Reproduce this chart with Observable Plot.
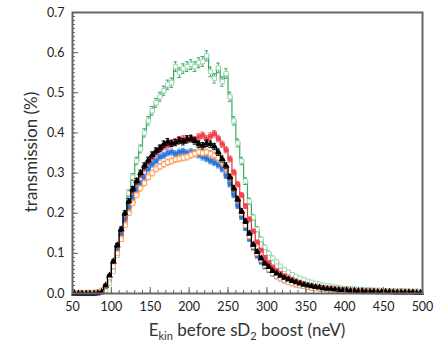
<!DOCTYPE html>
<html><head><meta charset="utf-8">
<script src="https://cdn.jsdelivr.net/npm/d3@7"></script>
<script src="https://cdn.jsdelivr.net/npm/@observablehq/plot@0.6"></script>
<style>body{margin:0;background:#fff;} svg{display:block;}</style>
</head><body><div id="chart"></div>
<script>
// bin lower edges 50..495 step 5 (neV)
const binEdges = d3.range(50, 500, 5);
const xTicksMajor = [50,100,150,200,250,300,350,400,450,500];
const yTicksMajor = [0,0.1,0.2,0.3,0.4,0.5,0.6,0.7];

const green = [
0,0,0,0,0,0,0.001,0.003,0.006,0.025,
0.055,0.095,0.145,0.195,0.25,0.29,0.33,0.36,0.40,0.43,
0.455,0.475,0.49,0.505,0.52,0.525,0.565,0.55,0.56,0.565,
0.57,0.565,0.575,0.578,0.592,0.552,0.536,0.562,0.528,0.548,
0.49,0.43,0.375,0.33,0.28,0.23,0.19,0.16,0.135,0.115,
0.10,0.088,0.079,0.068,0.06,0.053,0.047,0.042,0.038,0.034,
0.031,0.028,0.025,0.023,0.021,0.019,0.018,0.016,0.015,0.013,
0.012,0.012,0.011,0.010,0.010,0.009,0.009,0.008,0.008,0.008,
0.007,0.007,0.007,0.006,0.007,0.006,0.006,0.005,0.006,0.005];

const red = [
0,0,0,0,0,0,0.001,0.004,0.018,0.042,
0.075,0.11,0.15,0.19,0.22,0.25,0.275,0.295,0.312,0.326,
0.338,0.35,0.358,0.366,0.37,0.373,0.378,0.383,0.385,0.382,
0.386,0.383,0.39,0.394,0.385,0.392,0.398,0.386,0.372,0.358,
0.335,0.302,0.272,0.245,0.218,0.185,0.155,0.128,0.108,0.09,
0.077,0.066,0.057,0.05,0.044,0.039,0.034,0.03,0.027,0.024,
0.021,0.019,0.017,0.016,0.014,0.013,0.012,0.011,0.010,0.009,
0.009,0.008,0.008,0.007,0.007,0.006,0.006,0.006,0.005,0.005,
0.005,0.004,0.004,0.004,0.004,0.003,0.003,0.003,0.003,0.003];

const blue = [
0,0,0,0,0,0,0.001,0.004,0.018,0.04,
0.072,0.11,0.15,0.185,0.215,0.24,0.26,0.275,0.29,0.31,
0.322,0.33,0.34,0.344,0.35,0.352,0.348,0.352,0.354,0.35,
0.353,0.35,0.345,0.34,0.336,0.33,0.326,0.32,0.31,0.293,
0.272,0.245,0.218,0.19,0.162,0.135,0.113,0.093,0.078,0.066,
0.057,0.048,0.041,0.036,0.031,0.027,0.024,0.021,0.019,0.017,
0.015,0.013,0.012,0.011,0.010,0.009,0.008,0.008,0.007,0.006,
0.006,0.005,0.005,0.005,0.004,0.004,0.004,0.004,0.003,0.003,
0.003,0.003,0.003,0.002,0.002,0.002,0.002,0.002,0.002,0.002];

const orange = [
0.002,0.002,0.002,0.002,0.002,0.003,0.004,0.008,0.02,0.04,
0.068,0.10,0.135,0.17,0.20,0.225,0.245,0.262,0.275,0.29,
0.30,0.31,0.316,0.322,0.327,0.33,0.334,0.336,0.338,0.34,
0.345,0.348,0.352,0.35,0.352,0.348,0.344,0.338,0.328,0.312,
0.29,0.262,0.232,0.20,0.17,0.142,0.118,0.10,0.084,0.07,
0.06,0.05,0.043,0.037,0.032,0.028,0.025,0.022,0.02,0.018,
0.016,0.014,0.013,0.012,0.011,0.010,0.009,0.008,0.008,0.007,
0.007,0.006,0.006,0.006,0.005,0.005,0.005,0.005,0.005,0.004,
0.004,0.004,0.004,0.004,0.004,0.004,0.003,0.004,0.003,0.003];

const black = [
0,0,0,0,0,0,0.001,0.004,0.02,0.045,
0.08,0.12,0.16,0.20,0.23,0.26,0.28,0.30,0.318,0.332,
0.345,0.355,0.362,0.372,0.378,0.374,0.376,0.381,0.378,0.385,
0.386,0.38,0.372,0.368,0.374,0.372,0.366,0.352,0.335,0.318,
0.29,0.262,0.235,0.205,0.18,0.15,0.122,0.104,0.088,0.075,
0.066,0.056,0.05,0.044,0.039,0.035,0.031,0.028,0.025,0.022,
0.02,0.018,0.016,0.015,0.013,0.012,0.011,0.010,0.009,0.008,
0.008,0.007,0.007,0.006,0.006,0.005,0.005,0.005,0.004,0.004,
0.004,0.004,0.003,0.003,0.003,0.003,0.003,0.003,0.002,0.002];

// relative statistical error scale per series (err = k*sqrt(v))
const errScale = {green: 0.016, red: 0.013, blue: 0.013, orange: 0.013, black: 0.013};

function rows(vals, key) {
  return vals.map((v, i) => {
    const e = errScale[key] * Math.sqrt(v);
    const c = binEdges[i] + 2.5;
    return {x: c, y: v, y1: Math.max(0, v - e), y2: v + e, xa: c - 2.3, xb: c + 2.3};
  });
}

const styles = [
  {key: "green", vals: green, line: "#3aa864", bar: "#3aa864", sym: "square", fill: "#ffffff", stroke: "#9ed9b3", op: 1, r: 2.4},
  {key: "red", vals: red, line: "#e8343c", bar: "#f0646a", sym: "square", fill: "#ee3b43", stroke: "none", op: 0.85, r: 2.8},
  {key: "blue", vals: blue, line: "#1e6fd9", bar: "#5a97e6", sym: "square", fill: "#2472dc", stroke: "none", op: 0.9, r: 2.6},
  {key: "orange", vals: orange, line: "#ff6a00", bar: "#ff8a33", sym: "square", fill: "#ffffff", stroke: "#ffa366", op: 1, r: 2.5},
  {key: "black", vals: black, line: "#000000", bar: "#000000", sym: "triangle", fill: "#000000", stroke: "none", op: 1, r: 2.6}
];

const marks = [];
for (const s of styles) {
  const d = rows(s.vals, s.key);
  marks.push(Plot.line(d, {x: "x", y: "y", curve: "step", stroke: s.line, strokeWidth: 1.2}));
  marks.push(Plot.ruleX(d, {x: "x", y1: "y1", y2: "y2", stroke: s.bar, strokeWidth: 1}));
  marks.push(Plot.ruleY(d, {y: "y1", x1: "xa", x2: "xb", stroke: s.bar, strokeWidth: 1}));
  marks.push(Plot.ruleY(d, {y: "y2", x1: "xa", x2: "xb", stroke: s.bar, strokeWidth: 1}));
  marks.push(Plot.dot(d, {x: "x", y: "y", symbol: s.sym, r: s.r, fill: s.fill, stroke: s.stroke, strokeWidth: 1, fillOpacity: s.op}));
}

const xMinor = d3.range(50, 501, 10);
const yMinor = d3.range(0, 0.701, 0.01);

const chart = Plot.plot({
  width: 434, height: 347,
  marginTop: 12, marginRight: 12, marginBottom: 54, marginLeft: 72,
  style: {fontFamily: "Lato, 'Open Sans', sans-serif", fontSize: "13px", color: "#222", background: "#fff"},
  x: {domain: [50, 500]},
  y: {domain: [0, 0.7]},
  marks: [
    ...marks,
    Plot.axisX({ticks: xMinor, tickSize: -3, text: null, stroke: "#666"}),
    Plot.axisX({ticks: xTicksMajor, tickSize: -6, text: null, stroke: "#666"}),
    Plot.axisX({ticks: xTicksMajor, tickSize: 0, tickPadding: 9, tickFormat: d3.format("d"), label: null, fontSize: 12.5}),
    Plot.axisY({ticks: yMinor, tickSize: -3, text: null, stroke: "#666"}),
    Plot.axisY({ticks: yTicksMajor, tickSize: -6, text: null, stroke: "#666"}),
    Plot.axisY({ticks: yTicksMajor, tickSize: 0, tickPadding: 8, tickFormat: d3.format(".1f"), label: null, fontSize: 12.5}),
    Plot.frame({stroke: "#666", strokeWidth: 2})
  ]
});

const svg = d3.select(chart);
svg.append("text")
  .attr("transform", "translate(37,152) rotate(-90)")
  .attr("text-anchor", "middle")
  .attr("font-family", "Lato, 'Open Sans', sans-serif")
  .attr("font-size", 17).attr("fill", "#333")
  .text("transmission (%)");
const xt = svg.append("text")
  .attr("x", 247).attr("y", 336)
  .attr("text-anchor", "middle")
  .attr("font-family", "Lato, 'Open Sans', sans-serif")
  .attr("font-size", 17).attr("fill", "#333");
xt.append("tspan").text("E");
xt.append("tspan").attr("dy", 4).attr("font-size", 11).text("kin");
xt.append("tspan").attr("dy", -4).text(" before sD");
xt.append("tspan").attr("dy", 4).attr("font-size", 11).text("2");
xt.append("tspan").attr("dy", -4).text(" boost (neV)");

document.getElementById("chart").appendChild(chart);
</script>
</body></html>
